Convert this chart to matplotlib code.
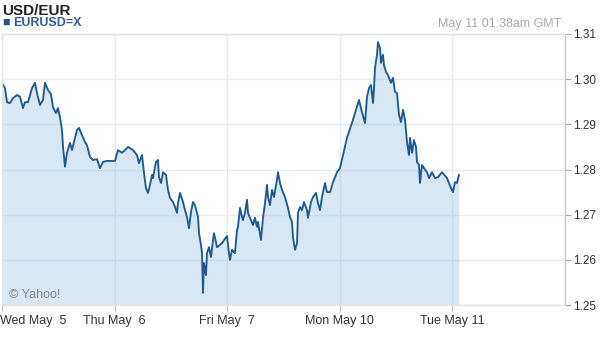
import matplotlib
matplotlib.use("Agg")
import matplotlib.pyplot as plt
import matplotlib.transforms as mtrans

plt.rcParams['font.family'] = ['Liberation Sans', 'DejaVu Sans']

# trading hours since Wed May 5 00:00 (weekend skipped)
hours = [0.15, 0.64, 1.07, 1.70, 2.34, 3.20, 3.84, 4.48, 4.90, 5.54,
         6.39, 7.03, 7.46, 8.10, 8.74, 9.16, 9.80, 10.44, 10.87, 11.51,
         11.93, 12.36, 12.79, 13.00, 13.43, 13.85, 14.49, 14.92, 15.34, 15.98,
         16.41, 17.05, 17.69, 18.11, 18.75, 19.39, 20.24, 20.88, 21.52, 22.38,
         24.08, 24.72, 25.58, 26.22, 26.86, 27.92, 28.77, 29.20, 29.84, 30.27,
         30.69, 31.12, 31.54, 31.97, 32.18, 32.82, 33.25, 33.46, 33.89, 34.32,
         34.95, 35.38, 35.81, 36.45, 36.87, 37.30, 37.51, 37.94, 38.58, 39.00,
         39.43, 39.86, 40.28, 40.71, 41.14, 41.78, 41.99, 42.41, 42.63, 42.84,
         43.05, 43.48, 43.69, 44.12, 44.55, 44.97, 45.19, 45.83, 46.89, 47.96,
         48.38, 48.60, 49.02, 49.66, 50.09, 50.30, 50.73, 51.15, 51.37, 51.79,
         52.22, 52.43, 52.86, 53.50, 53.92, 54.35, 54.56, 55.20, 55.63, 56.06,
         56.48, 56.70, 57.12, 57.55, 57.97, 58.61, 58.83, 59.25, 59.68, 60.32,
         60.96, 61.38, 61.81, 62.02, 62.45, 62.88, 63.09, 63.52, 63.94, 64.37,
         65.01, 65.22, 65.86, 66.29, 66.93, 67.35, 67.78, 68.20, 68.84, 69.27,
         69.91, 70.55, 71.40, 72.04, 73.53, 74.81, 76.09, 76.73, 77.37, 77.80,
         78.22, 78.65, 79.08, 79.29, 79.50, 79.93, 80.14, 80.57, 80.78, 81.20,
         81.42, 81.85, 82.27, 82.91, 83.34, 83.76, 84.19, 84.62, 85.04, 85.47,
         85.90, 86.32, 86.75, 86.96, 87.39, 87.81, 88.24, 88.45, 88.88, 89.09,
         89.52, 89.95, 90.58, 91.01, 91.65, 92.29, 92.93, 93.78, 94.85, 95.70,
         96.13, 96.55, 96.98, 97.40]
# EUR/USD rate
rates = [1.2989, 1.2980, 1.2949, 1.2947, 1.2958, 1.2965, 1.2961, 1.2936, 1.2949, 1.2949,
         1.2980, 1.2992, 1.2969, 1.2943, 1.2954, 1.2992, 1.2976, 1.2967, 1.2938, 1.2925,
         1.2936, 1.2916, 1.2887, 1.2850, 1.2806, 1.2837, 1.2859, 1.2843, 1.2861, 1.2887,
         1.2892, 1.2876, 1.2861, 1.2854, 1.2828, 1.2821, 1.2823, 1.2803, 1.2817, 1.2819,
         1.2819, 1.2843, 1.2837, 1.2843, 1.2850, 1.2843, 1.2832, 1.2814, 1.2832, 1.2792,
         1.2759, 1.2748, 1.2766, 1.2788, 1.2781, 1.2817, 1.2821, 1.2783, 1.2770, 1.2794,
         1.2788, 1.2755, 1.2737, 1.2728, 1.2717, 1.2704, 1.2726, 1.2748, 1.2728, 1.2710,
         1.2695, 1.2670, 1.2706, 1.2728, 1.2721, 1.2695, 1.2659, 1.2633, 1.2615, 1.2527,
         1.2593, 1.2566, 1.2615, 1.2628, 1.2606, 1.2644, 1.2659, 1.2628, 1.2637, 1.2653,
         1.2615, 1.2600, 1.2622, 1.2615, 1.2666, 1.2673, 1.2715, 1.2695, 1.2688, 1.2704,
         1.2733, 1.2704, 1.2693, 1.2677, 1.2693, 1.2673, 1.2684, 1.2644, 1.2693, 1.2726,
         1.2766, 1.2739, 1.2721, 1.2755, 1.2739, 1.2777, 1.2794, 1.2770, 1.2755, 1.2739,
         1.2715, 1.2695, 1.2684, 1.2651, 1.2622, 1.2637, 1.2704, 1.2717, 1.2710, 1.2728,
         1.2710, 1.2693, 1.2728, 1.2739, 1.2748, 1.2726, 1.2710, 1.2739, 1.2770, 1.2750,
         1.2750, 1.2772, 1.2794, 1.2803, 1.2870, 1.2910, 1.2954, 1.2927, 1.2903, 1.2961,
         1.2980, 1.2987, 1.2947, 1.2980, 1.3025, 1.3054, 1.3082, 1.3069, 1.3036, 1.3054,
         1.3031, 1.3016, 1.3009, 1.2992, 1.3003, 1.2972, 1.2969, 1.2921, 1.2905, 1.2932,
         1.2910, 1.2861, 1.2832, 1.2870, 1.2837, 1.2865, 1.2850, 1.2817, 1.2810, 1.2770,
         1.2810, 1.2803, 1.2794, 1.2781, 1.2794, 1.2781, 1.2783, 1.2794, 1.2781, 1.2759,
         1.2750, 1.2772, 1.2770, 1.2788]

day_ticks = [0, 24, 48, 72, 96]
day_labels = ['Wed May  5', 'Thu May  6', 'Fri May  7', 'Mon May 10', 'Tue May 11']
y_ticks = [1.25, 1.26, 1.27, 1.28, 1.29, 1.30, 1.31]

line_color = '#1d5a93'
fig = plt.figure(figsize=(6, 3.37), dpi=100)
ax = fig.add_axes([2/600, 1 - 305/337, 563/600, (305 - 34)/337])
ax.set_xlim(0, 120)
ax.set_ylim(1.25, 1.31)

for t in range(0, 121, 24):
    ax.axvline(t, color='#e4ebf2', lw=1, zorder=0)
for v in y_ticks:
    ax.axhline(v, color='#e4ebf2', lw=1, zorder=0)

ax.fill_between(hours, rates, 1.25, color='#a8cbe6', alpha=0.45, lw=0, zorder=1)
ax.plot(hours, rates, color=line_color, lw=1.35, zorder=2)

ax.yaxis.tick_right()
ax.set_yticks(y_ticks)
ax.set_yticklabels(['%.2f' % v for v in y_ticks])
ax.set_xticks(day_ticks)
ax.set_xticklabels(day_labels)
ax.tick_params(axis='y', length=4, width=0.8, color='#aaaaaa', labelsize=8.5,
               labelcolor='#333333', pad=2)
ax.tick_params(axis='x', length=4, width=0.8, color='#bbbbbb', labelsize=9,
               labelcolor='#333333', pad=3)
lbls = ax.get_xticklabels()
lbls[0].set_ha('left')
lbls[0].set_transform(lbls[0].get_transform() +
                      mtrans.ScaledTranslation(-2/100, 0, fig.dpi_scale_trans))

for s in ['top', 'left', 'bottom']:
    ax.spines[s].set_color('#e2e6ea')
    ax.spines[s].set_linewidth(1)
ax.spines['right'].set_color('#c8c8c8')
ax.spines['right'].set_linewidth(1)

fig.text(2/600, 1 - 11/337, 'USD/EUR', fontsize=11, fontweight='bold', color='#222222',
         va='center', ha='left')
fig.text(2/600, 1 - 23/337, '\u25A0', fontsize=9, color=line_color, va='center', ha='left')
fig.text(13/600, 1 - 23/337, 'EURUSD=X', fontsize=9, fontweight='bold', color='#2f5f96',
         va='center', ha='left')
fig.text(561/600, 1 - 24/337, 'May 11 01:38am GMT', fontsize=9, color='#aaaaaa',
         va='center', ha='right')
ax.text(7/563, (305 - 295)/271, '\u00A9 Yahoo!', transform=ax.transAxes, fontsize=9,
        color='#888888', va='center', ha='left')

fig.savefig('out.png', dpi=100)
